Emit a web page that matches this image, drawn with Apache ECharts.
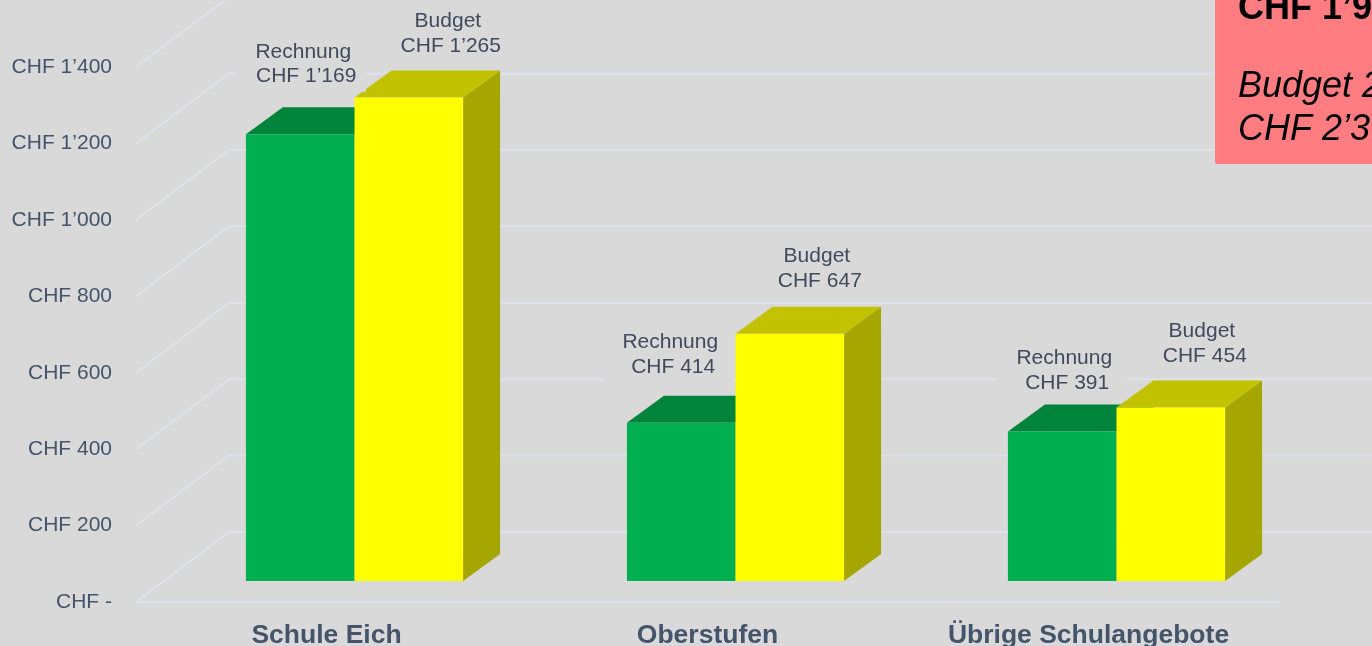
<!DOCTYPE html>
<html>
<head>
<meta charset="utf-8">
<title>Rechnung / Budget</title>
<script src="https://cdn.jsdelivr.net/npm/echarts@6/dist/echarts.min.js"></script>
<style>
  html, body { margin: 0; padding: 0; background: #d9d9d9; overflow: hidden; }
  #chart { width: 1372px; height: 646px; }
</style>
</head>
<body>
<div id="chart"></div>
<script>
const categories = ['Schule Eich', 'Oberstufen', 'Übrige Schulangebote'];
const rechnung = [1169, 414, 391];
const budget = [1265, 647, 454];
const yTicks = [0, 200, 400, 600, 800, 1000, 1200, 1400];
const boxLines = ['CHF 1’9', 'Budget 2', 'CHF 2’3'];

// pseudo 3d: wall sits behind the axis, bars stand part way into the floor
const WALL_DX = 93, WALL_DY = -70;
const BAR_DX = 28, BAR_DY = -21;
const DEPTH_DX = 37, DEPTH_DY = -27;
const BAR_SHARE = 0.285;

const TEXT = '"Liberation Sans", Arial, sans-serif';
const BG = '#d9d9d9';

function chf(v) {
  if (v === 0) return 'CHF -';
  return 'CHF ' + String(v).replace(/\B(?=(\d{3})+$)/g, '’');
}

function poly(points, color) {
  return { type: 'polygon', shape: { points: points }, style: { fill: color } };
}

// offset = 0 is the left bar of a pair, offset = 1 the right one
function renderBar(offset, front, top, side) {
  return function (params, api) {
    const i = api.value(0);
    const w = api.size([1, 0])[0] * BAR_SHARE;
    const base = api.coord([i, 0]);
    const head = api.coord([i, api.value(1)]);
    const x0 = base[0] + BAR_DX + (offset - 1) * w;
    const x1 = x0 + w;
    const y0 = base[1] + BAR_DY;
    const y1 = head[1] + BAR_DY;
    return {
      type: 'group',
      children: [
        poly([[x1, y1], [x1 + DEPTH_DX, y1 + DEPTH_DY], [x1 + DEPTH_DX, y0 + DEPTH_DY], [x1, y0]], side),
        poly([[x0, y1], [x0 + DEPTH_DX, y1 + DEPTH_DY], [x1 + DEPTH_DX, y1 + DEPTH_DY], [x1, y1]], top),
        poly([[x0, y0], [x0, y1], [x1, y1], [x1, y0]], front)
      ]
    };
  };
}

function renderWall(params, api) {
  const v = api.value(0);
  const cs = params.coordSys;
  const y = api.coord([0, v])[1];
  const lineStyle = { stroke: '#dfe2ea', lineWidth: 2, fill: 'none' };
  const children = [{
    type: 'polyline',
    shape: { points: [[cs.x, y], [cs.x + WALL_DX, y + WALL_DY], [cs.x + cs.width + WALL_DX, y + WALL_DY]] },
    style: lineStyle
  }];
  if (v === 0) {
    children.push({
      type: 'polyline',
      shape: { points: [[cs.x, y], [cs.x + cs.width, y]] },
      style: lineStyle
    });
  }
  return { type: 'group', children: children };
}

// label nudges from the bar's top centre, one per bar
const labelNudgeR = [[1, -70], [-13, -68], [0, -61]];
const labelNudgeB = [[37, -64], [25, -65], [29, -64]];

function renderLabel(name, nudges, offset) {
  return function (params, api) {
    const i = api.value(0);
    const v = api.value(1);
    const w = api.size([1, 0])[0] * BAR_SHARE;
    const head = api.coord([i, v]);
    const n = nudges[i];
    return {
      type: 'text',
      style: {
        // trailing space: first line sits a little left of the amount in the original
        text: name + ' \n' + chf(v),
        x: head[0] + BAR_DX + (offset - 0.5) * w + n[0],
        y: head[1] + BAR_DY + n[1],
        align: 'center',
        verticalAlign: 'middle',
        fill: '#404a5c',
        font: '21px ' + TEXT,
        lineHeight: 24.5,
        backgroundColor: BG,
        padding: [3, 9, 3, 19]
      }
    };
  };
}

const chart = echarts.init(document.getElementById('chart'));
chart.setOption({
  animation: false,
  backgroundColor: BG,
  grid: { left: 136, right: 93, top: 67, bottom: 44, outerBoundsMode: 'none' },
  xAxis: {
    type: 'category',
    data: categories,
    axisLine: { show: false },
    axisTick: { show: false },
    axisLabel: {
      interval: 0,
      margin: 20,
      color: '#44546a',
      fontFamily: TEXT,
      fontSize: 26.5,
      fontWeight: 'bold'
    }
  },
  yAxis: {
    type: 'value',
    min: 0,
    max: 1400,
    interval: 200,
    splitLine: { show: false },
    axisLine: { show: false },
    axisTick: { show: false },
    axisLabel: {
      margin: 24,
      color: '#44546a',
      fontFamily: TEXT,
      fontSize: 21,
      padding: [3, 0, 0, 0],
      formatter: chf
    }
  },
  series: [
    {
      type: 'custom',
      silent: true,
      renderItem: renderWall,
      data: yTicks.map(v => [v]),
      encode: { y: 0 }
    },
    {
      type: 'custom',
      name: 'Rechnung',
      renderItem: renderBar(0, '#00b050', '#00843c', '#00843c'),
      data: rechnung.map((v, i) => [i, v]),
      encode: { x: 0, y: 1 }
    },
    {
      type: 'custom',
      name: 'Budget',
      renderItem: renderBar(1, '#ffff00', '#c2c200', '#a6a600'),
      data: budget.map((v, i) => [i, v]),
      encode: { x: 0, y: 1 }
    },
    {
      type: 'custom',
      silent: true,
      renderItem: renderLabel('Rechnung', labelNudgeR, 0),
      data: rechnung.map((v, i) => [i, v]),
      encode: { x: 0, y: 1 }
    },
    {
      type: 'custom',
      silent: true,
      renderItem: renderLabel('Budget', labelNudgeB, 1),
      data: budget.map((v, i) => [i, v]),
      encode: { x: 0, y: 1 }
    }
  ],
  graphic: [
    {
      type: 'rect',
      z: 100,
      shape: { x: 1215, y: -10, width: 170, height: 174, r: 2 },
      style: { fill: '#ff7c80' }
    },
    {
      type: 'text', z: 101, x: 1238, y: 9,
      style: { text: boxLines[0], fill: '#000', font: 'bold 36px ' + TEXT, verticalAlign: 'middle' }
    },
    {
      type: 'text', z: 101, x: 1238, y: 87,
      style: { text: boxLines[1], fill: '#000', font: 'italic 36px ' + TEXT, verticalAlign: 'middle' }
    },
    {
      type: 'text', z: 101, x: 1238, y: 130,
      style: { text: boxLines[2], fill: '#000', font: 'italic 36px ' + TEXT, verticalAlign: 'middle' }
    }
  ]
});
</script>
</body>
</html>
